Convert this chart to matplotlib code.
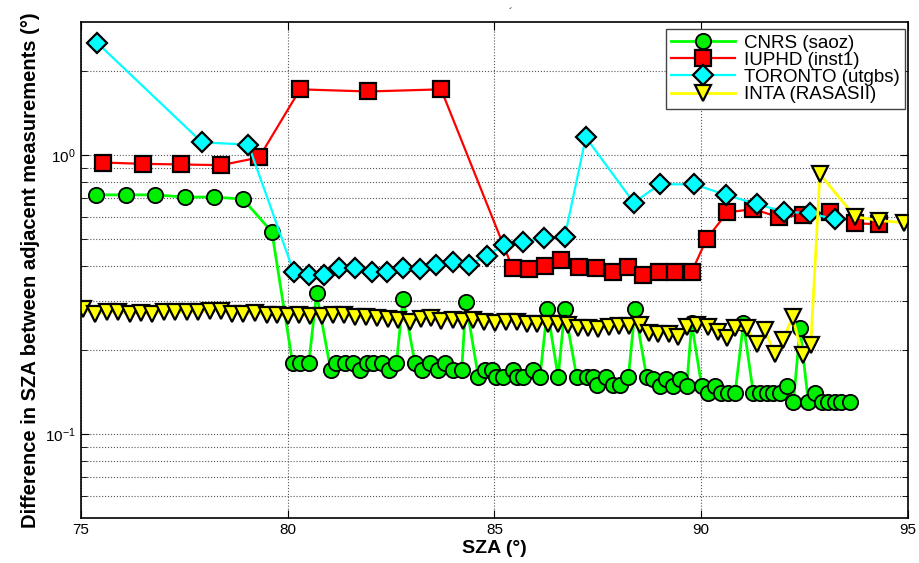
import numpy as np
import matplotlib as mpl
mpl.use("Agg")
import matplotlib.pyplot as plt
from matplotlib.ticker import FixedLocator, NullFormatter, LogFormatterSciNotation

plt.rcParams['font.family'] = ['Liberation Sans', 'DejaVu Sans']

# CNRS (saoz)
cnrs_sza = [75.36, 76.09, 76.79, 77.52, 78.22, 78.92, 79.62,
            80.12, 80.31, 80.51, 80.70, 81.04, 81.18, 81.38, 81.58, 81.75, 81.91,
            82.07, 82.27, 82.46, 82.63, 82.79, 83.08, 83.26, 83.44, 83.64, 83.80,
            84.00, 84.21, 84.31, 84.61, 84.77, 84.93, 85.05, 85.21, 85.45, 85.54,
            85.70, 85.94, 86.10, 86.28, 86.54, 86.70, 86.99, 87.23, 87.39, 87.47,
            87.71, 87.87, 88.04, 88.24, 88.40, 88.68, 88.84, 89.00, 89.16, 89.32,
            89.49, 89.65, 89.77, 90.01, 90.17, 90.33, 90.49, 90.65, 90.82, 91.02,
            91.26, 91.42, 91.58, 91.74, 91.90, 92.07, 92.23, 92.39, 92.59, 92.75,
            92.91, 93.07, 93.23, 93.39, 93.60]
cnrs_diff = [0.72, 0.72, 0.72, 0.707, 0.707, 0.695, 0.53,
             0.179, 0.179, 0.179, 0.319, 0.170, 0.179, 0.179, 0.179, 0.170, 0.179,
             0.179, 0.179, 0.170, 0.179, 0.306, 0.179, 0.170, 0.179, 0.170, 0.179,
             0.170, 0.170, 0.298, 0.160, 0.170, 0.170, 0.160, 0.160, 0.170, 0.160,
             0.160, 0.170, 0.160, 0.280, 0.160, 0.280, 0.160, 0.160, 0.160, 0.150,
             0.160, 0.150, 0.150, 0.160, 0.280, 0.160, 0.158, 0.149, 0.158, 0.149,
             0.158, 0.149, 0.249, 0.149, 0.140, 0.149, 0.140, 0.140, 0.140, 0.249,
             0.140, 0.140, 0.140, 0.140, 0.140, 0.149, 0.130, 0.239, 0.130, 0.140,
             0.130, 0.130, 0.130, 0.130, 0.130]

# IUPHD (inst1)
iuphd_sza = [75.54, 76.51, 77.43, 78.39, 79.31, 80.30, 81.95, 83.71,
             85.44, 85.84, 86.22, 86.62, 87.05, 87.45, 87.86, 88.24, 88.60,
             88.98, 89.37, 89.77, 90.13, 90.63, 91.26, 91.89, 92.47, 93.11,
             93.72, 94.31]
iuphd_diff = [0.94, 0.93, 0.925, 0.92, 0.98, 1.72, 1.69, 1.72,
              0.393, 0.389, 0.401, 0.420, 0.398, 0.395, 0.380, 0.396, 0.372,
              0.380, 0.381, 0.381, 0.500, 0.623, 0.640, 0.598, 0.610, 0.623,
              0.569, 0.565]

# TORONTO (utgbs)
toronto_sza = [75.39, 77.93, 79.05, 80.15, 80.51, 80.88, 81.25, 81.63, 82.03,
               82.41, 82.79, 83.20, 83.59, 83.99, 84.39, 84.81, 85.23, 85.70,
               86.20, 86.70, 87.21, 88.37, 89.00, 89.83, 90.61, 91.34, 92.00,
               92.63, 93.23]
toronto_diff = [2.53, 1.11, 1.09, 0.380, 0.372, 0.372, 0.393, 0.393, 0.380,
                0.382, 0.395, 0.389, 0.403, 0.414, 0.405, 0.434, 0.476, 0.489,
                0.503, 0.509, 1.157, 0.675, 0.786, 0.785, 0.719, 0.667, 0.627,
                0.618, 0.589]

# INTA (RASASII)
inta_sza = [75.04, 75.34, 75.62, 75.90, 76.19, 76.45, 76.73, 77.01, 77.27,
            77.56, 77.84, 78.12, 78.39, 78.66, 78.93, 79.21, 79.49, 79.75,
            80.01, 80.28, 80.55, 80.82, 81.10, 81.36, 81.63, 81.89, 82.15,
            82.43, 82.67, 82.96, 83.22, 83.46, 83.72, 83.99, 84.23, 84.49,
            84.75, 85.01, 85.27, 85.54, 85.78, 86.02, 86.29, 86.54, 86.78,
            87.03, 87.27, 87.51, 87.78, 88.02, 88.26, 88.52, 88.74, 88.96,
            89.23, 89.45, 89.65, 89.89, 90.17, 90.41, 90.63, 90.82, 91.10,
            91.34, 91.54, 91.78, 91.98, 92.21, 92.45, 92.65, 92.87, 93.72,
            94.31, 94.90]
inta_diff = [0.280, 0.270, 0.274, 0.274, 0.270, 0.272, 0.270, 0.274, 0.273,
             0.274, 0.273, 0.277, 0.277, 0.270, 0.270, 0.272, 0.267, 0.268,
             0.265, 0.267, 0.265, 0.265, 0.267, 0.267, 0.262, 0.263, 0.260,
             0.258, 0.256, 0.253, 0.258, 0.260, 0.255, 0.256, 0.254, 0.256,
             0.253, 0.249, 0.253, 0.253, 0.248, 0.248, 0.248, 0.248, 0.246,
             0.240, 0.240, 0.237, 0.242, 0.244, 0.244, 0.246, 0.230, 0.229,
             0.229, 0.222, 0.242, 0.246, 0.242, 0.233, 0.220, 0.239, 0.239,
             0.211, 0.235, 0.194, 0.217, 0.263, 0.192, 0.209, 0.855, 0.601,
             0.582, 0.572]

fig = plt.figure(figsize=(9.19, 5.63), dpi=100)
ax = fig.add_axes([0.088, 0.080, 0.900, 0.881])

ax.plot(cnrs_sza, cnrs_diff, "-o", color="#00ff00", mfc="#00ee00", mec="k",
        mew=1.3, ms=11, lw=2, label="CNRS (saoz)")
ax.plot(iuphd_sza, iuphd_diff, "-s", color="#ff0000", mfc="#ff0000", mec="k",
        mew=1.6, ms=11, lw=1.6, label="IUPHD (inst1)")
ax.plot(toronto_sza, toronto_diff, "-D", color="#00ffff", mfc="#00ffff", mec="k",
        mew=1.6, ms=10, lw=1.6, label="TORONTO (utgbs)")
ax.plot(inta_sza, inta_diff, "-v", color="#ffff00", mfc="#ffff00", mec="k",
        mew=1.6, ms=11, lw=2, label="INTA (RASASII)")

ax.set_yscale("log")
ax.set_xlim(75, 95)
ax.set_ylim(0.05, 3)
ax.set_xticks([75, 80, 85, 90, 95])
ax.yaxis.set_major_locator(FixedLocator([0.1, 1.0]))
ax.yaxis.set_major_formatter(LogFormatterSciNotation())
ax.yaxis.set_minor_locator(FixedLocator([0.06, 0.07, 0.08, 0.09, 0.2, 0.3, 0.4,
                                         0.5, 0.6, 0.7, 0.8, 0.9, 2.0]))
ax.yaxis.set_minor_formatter(NullFormatter())

ax.grid(True, which="major", axis="both", ls=":", color="#555555", lw=0.8)
ax.grid(True, which="minor", axis="y", ls=":", color="#555555", lw=0.8)
ax.tick_params(which="both", direction="in", top=True, right=True, labelsize=11)
ax.tick_params(which="major", length=6)
ax.tick_params(which="minor", length=4)
for s in ax.spines.values():
    s.set_linewidth(1.2)

ax.set_xlabel("SZA (°)", fontsize=14, fontweight="bold", labelpad=2)
ax.set_ylabel("Difference in SZA between adjacent measurements (°)",
              fontsize=14.5, fontweight="bold", labelpad=4)

leg = ax.legend(loc="upper right", bbox_to_anchor=(905 / 919, 1 - 29 / 563),
                bbox_transform=fig.transFigure, borderaxespad=0,
                fontsize=13.5, fancybox=False, framealpha=1,
                edgecolor="#444444", handlelength=3.4, handletextpad=0.45,
                labelspacing=0.0, borderpad=0.3)
leg.get_frame().set_linewidth(1.0)

fig.text(0.556, 0.985, "´", fontsize=8, ha="center", va="top")

fig.savefig("out.png", dpi=100)
